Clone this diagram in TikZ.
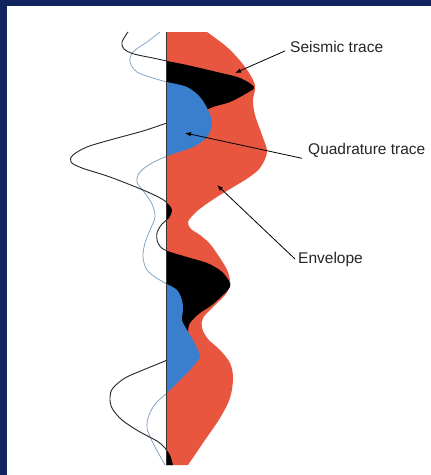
\documentclass[tikz,border=0pt]{standalone}
\usepackage{fontspec}
\setmainfont{Liberation Sans}
\usetikzlibrary{arrows.meta}

\definecolor{navy}{RGB}{18,36,96}
\definecolor{envred}{RGB}{232,86,64}
\definecolor{quadblue}{RGB}{58,126,206}
\definecolor{quadline}{RGB}{135,165,198}

\newcommand\seismic{plot[smooth,tension=.55] coordinates {(128,32) (122,42) (124,49) (134,54) (153,58) (167,61) (187,65) (217,72) (240,78) (254,87) (247,93) (230,102) (213,107) (200,113) (185,118) (167,123) (143,131) (110,140) (87,147) (73,155) (71,162) (82,168) (110,177) (143,190) (162,199) (170,206) (172,211) (169,218) (162,224) (157,233) (158,243) (165,250) (187,257) (207,263) (221,271) (229,281) (230,287) (224,294) (212,305) (200,313) (190,323) (188,333) (190,341) (180,352) (167,360) (143,370) (125,378) (113,388) (110,397) (112,408) (122,420) (140,432) (157,441) (165,448) (170,455) (173,465)}}
\newcommand\quadrature{plot[smooth,tension=.55] coordinates {(160,32) (147,42) (133,52) (130,62) (137,72) (153,78) (167,82) (187,87) (200,97) (208,110) (212,123) (207,137) (193,147) (170,155) (152,163) (140,172) (137,182) (144,192) (152,204) (155,217) (150,230) (145,243) (143,257) (147,270) (158,279) (167,284) (177,290) (182,300) (183,310) (182,320) (187,330) (193,340) (198,350) (200,357) (190,370) (177,383) (167,393) (156,403) (149,415) (147,428) (153,443) (160,456) (165,465)}}

\begin{document}
\begin{tikzpicture}[
      x=1pt, y=-1pt,
      lbl/.style={anchor=west, inner sep=1pt, text=black!85, font=\fontsize{15.5}{18}\selectfont},
      pointer/.style={-{Latex[length=6pt,width=4.5pt]}, line width=.8pt}
    ]
      \useasboundingbox (0,0) rectangle (431,475);
      \fill[navy] (0,0) rectangle (431,475);
      \fill[white] (7,6) rectangle (431,475);

      \coordinate (top) at (166,32);
      \coordinate (bottom) at (166,465);

      \fill[envred] (top) -- plot[smooth,tension=.55] coordinates {(207,32) (228,48) (245,67) (255,85) (253,100) (255,115) (262,135) (267,152) (260,168) (248,178) (235,186) (220,195) (205,205) (195,213) (188,222) (191,229) (200,235) (210,244) (220,258) (228,272) (230,285) (225,295) (213,307) (203,318) (202,328) (208,339) (220,350) (230,363) (233,378) (230,398) (220,418) (205,440) (188,465)} -- (bottom) -- cycle;

      \begin{scope}
        \clip (166,0) rectangle (431,475);
        \fill[black] \seismic -- (bottom) -- (top) -- cycle;
        \fill[quadblue] \quadrature -- (bottom) -- (top) -- cycle;
      \end{scope}

      \begin{scope}
        \clip (0,0) rectangle (166,475);
        \draw[quadline, line width=.8pt] \quadrature;
        \draw[black!85, line width=.9pt] \seismic;
      \end{scope}

      \draw[black!80, line width=.7pt] (top) -- (bottom);

      \node[lbl] (seis) at (289,47) {Seismic trace};
      \node[lbl] (quad) at (307,150) {Quadrature trace};
      \node[lbl] (env) at (297,259) {Envelope};

      \coordinate (seistip) at (235,73);
      \coordinate (quadtip) at (185,133);
      \coordinate (envtip) at (217,185);

      \path[pointer] ([xshift=-4pt,yshift=3pt]seis.south west) edge (seistip);
      \path[pointer] ([xshift=-5pt]quad.south west) edge (quadtip);
      \path[pointer] ([xshift=-2pt]env.west) edge (envtip);
    \end{tikzpicture}
\end{document}
